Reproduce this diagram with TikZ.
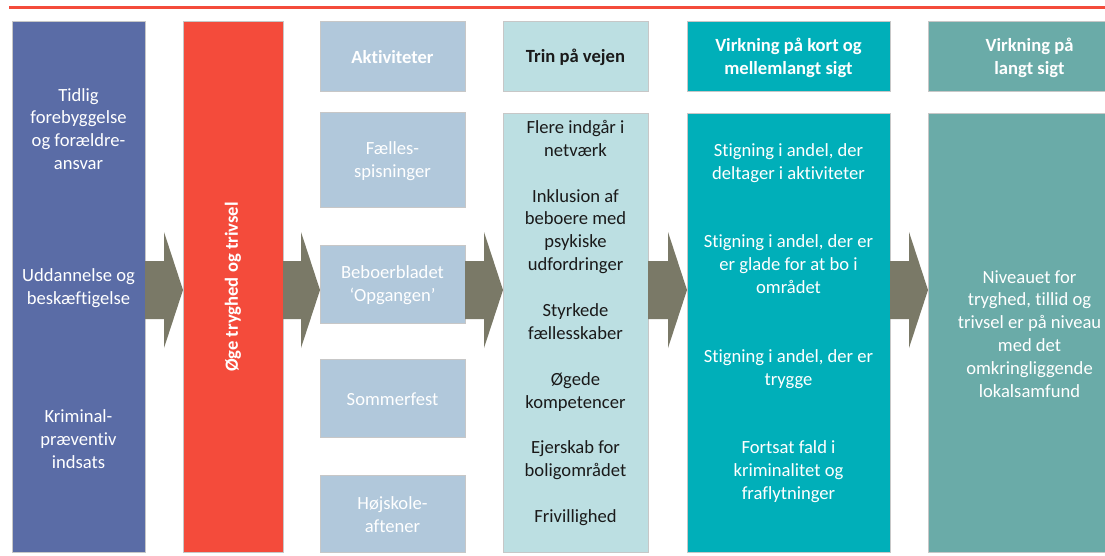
\documentclass[tikz,border=0pt]{standalone}
\usepackage{fontspec}
\setmainfont{Carlito}[Ligatures={NoCommon}]
\usetikzlibrary{calc}
\definecolor{cblue}{HTML}{5A6CA6}
\definecolor{cred}{HTML}{F44B3B}
\definecolor{csteel}{HTML}{B1C8DB}
\definecolor{ccyan}{HTML}{BCDFE2}
\definecolor{cteal}{HTML}{00AFB9}
\definecolor{cgreen}{HTML}{6AABA8}
\definecolor{carrow}{HTML}{7A7967}
\definecolor{ctext}{HTML}{1A1A1A}
\tikzset{
  box/.style={draw=black!22, line width=0.6pt, inner sep=0pt, outer sep=0pt, minimum width=#1},
  txt/.style={inner sep=0pt, align=center, font=\fontsize{18.6}{22.9}\selectfont},
  btxt/.style={inner sep=0pt, align=center, font=\fontsize{18.6}{22.9}\selectfont\bfseries},
  dn/.style={yshift=-1.5pt},
  arrowc/.style={fill=carrow}
}
\newcommand\blockarrow[2]{%
  \fill[arrowc] ($(#1.east |- yc)+(0,-29)$) -- ($(#2.west |- yc)+(-19,-29)$) -- ($(#2.west |- yc)+(-19,-58)$) -- (#2.west |- yc) -- ($(#2.west |- yc)+(-19,58)$) -- ($(#2.west |- yc)+(-19,29)$) -- ($(#1.east |- yc)+(0,29)$) -- cycle;}
\begin{document}
\begin{tikzpicture}[x=1pt,y=-1pt]
\useasboundingbox (0,0) rectangle (1105,556);
\clip (0,0) rectangle (1105,556);
\fill[white] (0,0) rectangle (1105,556);
\coordinate (yc) at (0,290);
\coordinate (rl) at (9,7.7);
\coordinate (rr) at (1105,7.7);
\draw[cred, line width=3.3pt] (rl) -- (rr);

% column 1
\node[box=133pt, minimum height=531pt, fill=cblue] (c1) at (78.5,286.5) {};
\node[txt, dn, text=white] (t1a) at (78.5,127.5) {Tidlig\\forebyggelse\\og forældre-\\ansvar};
\node[txt, dn, text=white] (t1b) at (78.5,287) {Uddannelse og\\beskæftigelse};
\node[txt, dn, text=white] (t1c) at (78.5,438) {Kriminal-\\præventiv\\indsats};

% column 2
\node[box=100pt, minimum height=531pt, fill=cred] (c2) at (233,286.5) {};
\node[btxt, text=white, rotate=90] (t2) at (233,287) {Øge tryghed og trivsel};

% column 3
\node[box=145pt, minimum height=70pt, fill=csteel] (h3) at (392.5,56) {};
\node[btxt, dn, text=white] (h3t) at (h3) {Aktiviteter};
\node[box=145pt, minimum height=95pt, fill=csteel] (a1) at (392.5,159.5) {};
\node[txt, dn, text=white] (a1t) at (a1) {Fælles-\\spisninger};
\node[box=145pt, minimum height=78pt, fill=csteel] (a2) at (392.5,284) {};
\node[txt, dn, text=white] (a2t) at (a2) {Beboerbladet\\‘Opgangen’};
\node[box=145pt, minimum height=78pt, fill=csteel] (a3) at (392.5,398) {};
\node[txt, dn, text=white] (a3t) at (a3) {Sommerfest};
\node[box=145pt, minimum height=77pt, fill=csteel] (a4) at (392.5,513.5) {};
\node[txt, dn, text=white] (a4t) at (a4) {Højskole-\\aftener};

% column 4
\node[box=145pt, minimum height=70pt, fill=ccyan] (h4) at (575.5,56) {};
\node[btxt, dn, text=ctext] (h4t) at (h4) {Trin på vejen};
\node[box=145pt, minimum height=439pt, fill=ccyan] (c4) at (575.5,332.5) {};
\node[txt, dn, text=ctext] (t4) at (575.5,321.5) {Flere indgår i\\netværk\\[22.9pt]Inklusion af\\beboere med\\psykiske\\udfordringer\\[22.9pt]Styrkede\\fællesskaber\\[22.9pt]Øgede\\kompetencer\\[22.9pt]Ejerskab for\\boligområdet\\[22.9pt]Frivillighed};

% column 5
\node[box=203pt, minimum height=70pt, fill=cteal] (h5) at (788.5,56) {};
\node[btxt, dn, text=white] (h5t) at (h5) {Virkning på kort og\\mellemlangt sigt};
\node[box=203pt, minimum height=439pt, fill=cteal] (c5) at (788.5,332.5) {};
\node[txt, dn, text=white] (t5) at (788.5,321.5) {Stigning i andel, der\\deltager i aktiviteter\\[45.8pt]Stigning i andel, der er\\er glade for at bo i\\området\\[45.8pt]Stigning i andel, der er\\trygge\\[45.8pt]Fortsat fald i\\kriminalitet og\\fraflytninger};

% column 6
\node[box=203pt, minimum height=70pt, fill=cgreen] (h6) at (1029.5,56) {};
\node[btxt, dn, text=white] (h6t) at (h6) {Virkning på\\langt sigt};
\node[box=203pt, minimum height=439pt, fill=cgreen] (c6) at (1029.5,332.5) {};
\node[txt, dn, text=white] (t6) at (c6) {Niveauet for\\tryghed, tillid og\\trivsel er på niveau\\med det\\omkringliggende\\lokalsamfund};

% arrows
\blockarrow{c1}{c2}
\blockarrow{c2}{a2}
\blockarrow{a2}{c4}
\blockarrow{c4}{c5}
\blockarrow{c5}{c6}
\end{tikzpicture}
\end{document}
